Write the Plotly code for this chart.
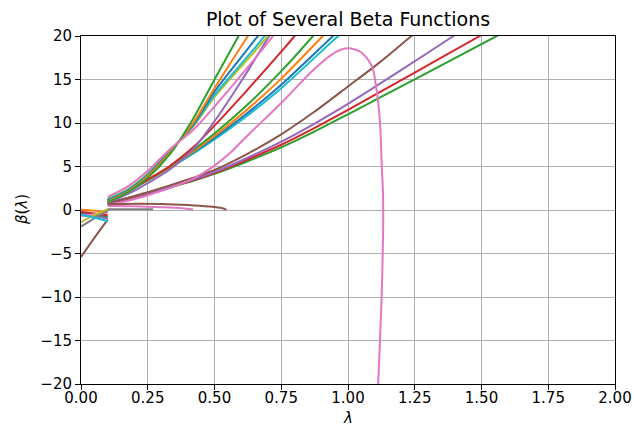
import plotly.graph_objects as go

COLORS = ["#1f77b4", "#ff7f0e", "#2ca02c", "#d62728", "#9467bd",
          "#8c564b", "#e377c2", "#7f7f7f", "#bcbd22", "#17becf"]

X_TICKS = [0.0, 0.25, 0.5, 0.75, 1.0, 1.25, 1.5, 1.75, 2.0]
Y_TICKS = [-20, -15, -10, -5, 0, 5, 10, 15, 20]

# --- small-coupling branch, lambda in [0, 0.1] ---
lam_left = [0.0, 0.05, 0.1]
left_blue = [-0.35, -0.55, -0.8]
left_orange = [0.02, -0.08, -0.25]
left_green = [-0.55, -0.7, -0.9]
left_red = [-0.2, -0.4, -0.6]
left_purple = [-0.45, -0.7, -1.0]
left_brown = [-5.4, -3.2, -1.1]
left_pink = [-0.7, -0.5, -0.3]
left_gray = [-1.9, -0.95, -0.05]
left_olive = [-1.4, -0.6, 0.1]
left_cyan = [-0.55, -0.9, -1.3]

# --- short branches after lambda = 0.1 ---
lam_short_gray = [0.1, 0.18, 0.27]
beta_short_gray = [0.08, 0.08, 0.08]
lam_short_pink = [0.1, 0.2, 0.3, 0.38, 0.42]
beta_short_pink = [0.45, 0.42, 0.32, 0.2, 0.05]
lam_short_brown = [0.1, 0.2, 0.3, 0.4, 0.48, 0.53, 0.545]
beta_short_brown = [0.65, 0.72, 0.7, 0.58, 0.4, 0.2, 0.02]

# --- steep family ---
lam_steep_green = [0.1, 0.18, 0.25, 0.33, 0.42, 0.5, 0.59, 0.61]
beta_steep_green = [0.9, 2.1, 3.7, 6.3, 10.5, 15.0, 20.0, 21.2]
lam_steep_orange = [0.1, 0.18, 0.25, 0.33, 0.42, 0.5, 0.625, 0.65]
beta_steep_orange = [1.0, 2.2, 3.9, 6.5, 10.0, 14.0, 20.0, 21.2]
lam_steep_blue = [0.1, 0.18, 0.25, 0.33, 0.42, 0.5, 0.6625, 0.69]
beta_steep_blue = [1.1, 2.3, 4.0, 6.6, 9.8, 13.6, 20.0, 21.2]
lam_steep_cyan = [0.1, 0.18, 0.25, 0.33, 0.42, 0.5, 0.6875, 0.71]
beta_steep_cyan = [1.2, 2.4, 4.1, 6.7, 9.7, 13.2, 20.0, 21.2]
lam_steep_olive = [0.1, 0.18, 0.25, 0.33, 0.42, 0.5, 0.70, 0.725]
beta_steep_olive = [1.3, 2.5, 4.2, 6.8, 9.6, 13.0, 20.0, 21.2]
lam_steep_pink = [0.1, 0.18, 0.25, 0.33, 0.42, 0.5, 0.6, 0.719, 0.745]
beta_steep_pink = [1.5, 2.8, 4.5, 6.9, 9.2, 11.9, 15.5, 20.0, 21.2]
lam_steep_purple = [0.1, 0.18, 0.25, 0.33, 0.42, 0.5, 0.6, 0.705, 0.73]
beta_steep_purple = [0.85, 1.9, 3.1, 4.6, 7.0, 10.2, 14.8, 20.0, 21.2]

# --- middle family ---
lam_mid_red = [0.1, 0.18, 0.25, 0.33, 0.42, 0.5, 0.62, 0.75, 0.8, 0.82]
beta_mid_red = [1.0, 2.2, 3.5, 5.0, 7.2, 9.7, 13.7, 18.2, 20.0, 20.75]
lam_mid_green = [0.1, 0.18, 0.25, 0.33, 0.42, 0.5, 0.62, 0.75, 0.869, 0.89]
beta_mid_green = [1.05, 2.23, 3.42, 4.95, 6.89, 8.8, 12.0, 15.96, 20.0, 20.75]
lam_mid_orange = [0.1, 0.18, 0.25, 0.33, 0.42, 0.5, 0.62, 0.75, 0.906, 0.93]
beta_mid_orange = [1.1, 2.27, 3.42, 4.88, 6.71, 8.5, 11.48, 15.1, 20.0, 20.7]
lam_mid_blue = [0.1, 0.18, 0.25, 0.33, 0.42, 0.5, 0.62, 0.75, 0.944, 0.97]
beta_mid_blue = [1.15, 2.32, 3.46, 4.87, 6.61, 8.3, 11.07, 14.4, 20.0, 20.7]
lam_mid_cyan = [0.1, 0.18, 0.25, 0.33, 0.42, 0.5, 0.62, 0.75, 0.963, 0.99]
beta_mid_cyan = [1.2, 2.33, 3.42, 4.79, 6.47, 8.1, 10.78, 14.0, 20.0, 20.7]

# --- turning-over curve ---
lam_hump = [0.1, 0.18, 0.25, 0.33, 0.42, 0.5, 0.56, 0.625, 0.75, 0.87, 0.95, 1.0,
            1.05, 1.09, 1.107, 1.12, 1.126, 1.131, 1.132, 1.13, 1.126, 1.121, 1.113]
beta_hump = [0.6, 1.1, 1.7, 2.5, 3.6, 5.1, 6.6, 8.6, 12.3, 16.1, 18.1, 18.6,
             18.1, 16.5, 13.8, 10.0, 5.4, 2.0, -1.0, -5.0, -10.0, -14.0, -20.0]

# --- slow family ---
lam_slow_brown = [0.1, 0.18, 0.25, 0.33, 0.42, 0.5, 0.62, 0.75, 0.87, 1.0, 1.12, 1.238, 1.26]
beta_slow_brown = [0.8, 1.45, 2.05, 2.8, 3.7, 4.6, 6.4, 8.7, 11.2, 14.2, 17.0, 20.0, 20.5]
lam_slow_purple = [0.1, 0.18, 0.25, 0.33, 0.42, 0.5, 0.62, 0.75, 0.87, 1.0, 1.2, 1.395, 1.42]
beta_slow_purple = [0.8, 1.4, 1.95, 2.65, 3.5, 4.35, 5.95, 7.85, 9.85, 12.2, 16.1, 20.0, 20.5]
lam_slow_red = [0.1, 0.18, 0.25, 0.33, 0.42, 0.5, 0.62, 0.75, 0.87, 1.0, 1.25, 1.494, 1.52]
beta_slow_red = [0.75, 1.35, 1.9, 2.6, 3.4, 4.25, 5.75, 7.5, 9.35, 11.5, 15.8, 20.0, 20.45]
lam_slow_green = [0.1, 0.18, 0.25, 0.33, 0.42, 0.5, 0.62, 0.75, 0.87, 1.0, 1.28, 1.557, 1.585]
beta_slow_green = [0.7, 1.3, 1.85, 2.55, 3.35, 4.15, 5.55, 7.2, 8.95, 11.0, 15.5, 20.0, 20.45]

series = [
    (lam_left, left_blue, 0), (lam_left, left_orange, 1), (lam_left, left_green, 2),
    (lam_left, left_red, 3), (lam_left, left_purple, 4), (lam_left, left_brown, 5),
    (lam_left, left_pink, 6), (lam_left, left_gray, 7), (lam_left, left_olive, 8),
    (lam_left, left_cyan, 9),
    (lam_slow_green, beta_slow_green, 2), (lam_slow_red, beta_slow_red, 3),
    (lam_slow_purple, beta_slow_purple, 4), (lam_slow_brown, beta_slow_brown, 5),
    (lam_hump, beta_hump, 6),
    (lam_mid_cyan, beta_mid_cyan, 9), (lam_mid_blue, beta_mid_blue, 0),
    (lam_mid_orange, beta_mid_orange, 1), (lam_mid_green, beta_mid_green, 2),
    (lam_mid_red, beta_mid_red, 3),
    (lam_steep_purple, beta_steep_purple, 4),
    (lam_steep_olive, beta_steep_olive, 8), (lam_steep_cyan, beta_steep_cyan, 9),
    (lam_steep_blue, beta_steep_blue, 0), (lam_steep_orange, beta_steep_orange, 1),
    (lam_steep_green, beta_steep_green, 2), (lam_steep_pink, beta_steep_pink, 6),
    (lam_short_gray, beta_short_gray, 7), (lam_short_pink, beta_short_pink, 6),
    (lam_short_brown, beta_short_brown, 5),
]

fig = go.Figure()
for xs, ys, ci in series:
    fig.add_trace(go.Scatter(
        x=xs, y=ys, mode="lines",
        line=dict(color=COLORS[ci], width=2, shape="spline", smoothing=0.8),
        showlegend=False, hoverinfo="skip"))

FONT = "DejaVu Sans, Verdana, sans-serif"
axis_common = dict(
    showgrid=True, gridcolor="#b0b0b0", gridwidth=1,
    showline=True, linecolor="black", linewidth=1, mirror=True,
    ticks="outside", ticklen=5, tickwidth=1, tickcolor="black",
    zeroline=False, automargin=False,
    tickfont=dict(family=FONT, size=15, color="black"),
)
fig.update_xaxes(range=[0, 2], tickvals=X_TICKS, tickformat=".2f",
                 ticklabelstandoff=-5, **axis_common)
fig.update_yaxes(range=[-20, 20], tickvals=Y_TICKS, **axis_common)

fig.update_layout(
    width=634, height=430,
    margin=dict(l=81, r=19, t=36, b=46),
    paper_bgcolor="white", plot_bgcolor="white",
    font=dict(family=FONT, size=15, color="black"),
    title=dict(text="Plot of Several Beta Functions", x=0.5, xref="paper",
               y=1 - 19 / 430, yref="container", yanchor="middle", xanchor="center",
               font=dict(family=FONT, size=19, color="black")),
    annotations=[
        dict(text="<i>λ</i>", x=0.5, y=0, xref="paper", yref="paper",
             xanchor="center", yanchor="top", yshift=-23, showarrow=False,
             font=dict(family=FONT, size=15, color="black")),
        dict(text="<i>β</i>(<i>λ</i>)", x=0, y=0.5, xref="paper", yref="paper",
             xanchor="center", yanchor="middle", xshift=-59, textangle=-90,
             showarrow=False, font=dict(family=FONT, size=15, color="black")),
    ],
)

fig.write_html("out.html")
